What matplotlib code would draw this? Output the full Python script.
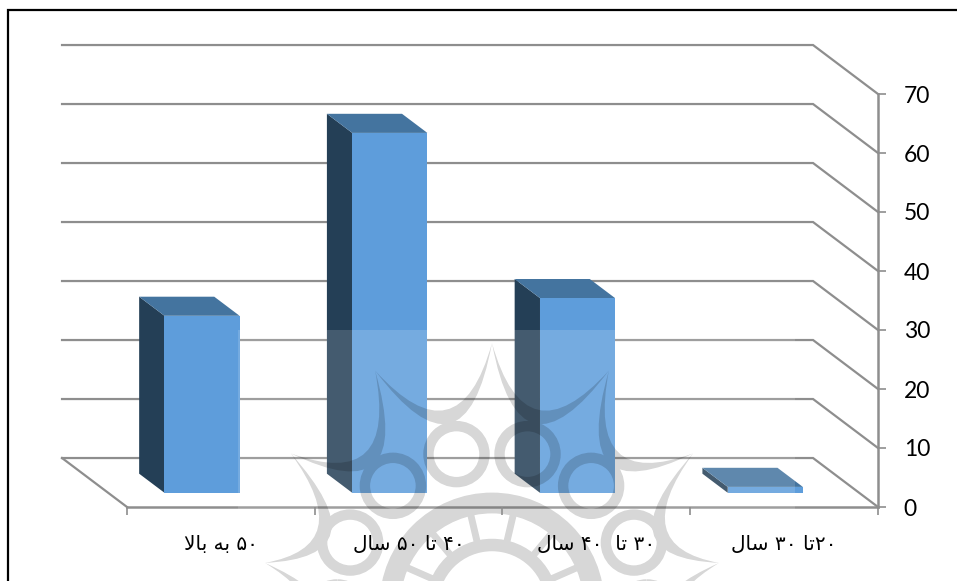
import numpy as np
import matplotlib
matplotlib.use('Agg')
import matplotlib.pyplot as plt
from matplotlib.backends.backend_agg import FigureCanvasAgg
from matplotlib.figure import Figure
from matplotlib.lines import Line2D
from matplotlib.patches import Circle, PathPatch, Polygon, Rectangle
from matplotlib.path import Path

plt.rcParams['font.family'] = ['Lato', 'DejaVu Sans']

# age groups, written in display order with shaped glyphs (matplotlib has no bidi)
categories = [
    '\ufefb\ufe8e\ufe91 \ufeea\ufe91 \u06f5\u06f0',
    '\ufedd\ufe8e\ufeb3 \u06f5\u06f0 \ufe8e\ufe97 \u06f4\u06f0',
    '\ufedd\ufe8e\ufeb3 \u06f4\u06f0  \ufe8e\ufe97 \u06f3\u06f0',
    '\ufedd\ufe8e\ufeb3 \u06f3\u06f0 \ufe8e\ufe97\u06f2\u06f0',
]
values = [30, 61, 33, 1]
y_ticks = [0, 10, 20, 30, 40, 50, 60, 70]

W, H = 957, 581
FRONT = '#5e9ddb'
SIDE = '#243f56'
TOP = '#44749f'
GREY = '#8e8e8e'

# oblique depth of the floor, in data units
DEPTH_X = 0.346
DEPTH_Y = 8.3
BAR_WIDTH = 0.4
D_FRONT = 0.29
D_BACK = 0.68


def project(x, v, d):
    return (x - d * DEPTH_X, v + d * DEPTH_Y)


def make_watermark():
    # emblem is drawn opaque off screen, so that overlaps do not add up
    f = Figure(figsize=(W / 100, H / 100), dpi=100)
    canvas = FigureCanvasAgg(f)
    a = f.add_axes([0, 0, 1, 1])
    a.set_xlim(0, W)
    a.set_ylim(H, 0)
    a.axis('off')
    cx, cy = 492, 605
    step = np.radians(26.5)
    radii = {0: 262, 1: 262, 2: 252, 3: 231, 4: 215, 5: 200}

    def pt(angle, r):
        return (cx + r * np.sin(angle), cy - r * np.cos(angle))

    for k in range(-5, 5):
        ang_a, ang_b = k * step, (k + 1) * step
        ta = pt(ang_a, radii[abs(k)])
        tb = pt(ang_b, radii[abs(k + 1)])
        mid = (ang_a + ang_b) / 2
        verts = [ta, pt(mid, 146), tb, pt(mid, 118), ta, ta]
        codes = [Path.MOVETO, Path.CURVE3, Path.CURVE3, Path.CURVE3, Path.CURVE3, Path.CLOSEPOLY]
        a.add_patch(PathPatch(Path(verts, codes), fc='k', ec='none'))
        a.add_patch(Circle(pt(mid, 155), 28, fc='none', ec='k', lw=7.5))
        a.plot(*zip(pt(mid, 60), pt(mid, 100)), color='k', lw=5)
    a.add_patch(Circle((cx, cy), 102, fc='none', ec='k', lw=15))
    a.add_patch(Circle((cx, cy), 60, fc='none', ec='k', lw=9))
    canvas.draw()
    buf = np.asarray(canvas.buffer_rgba())
    rgba = np.zeros((buf.shape[0], buf.shape[1], 4))
    rgba[..., 3] = (1 - buf[..., 0] / 255.0) * 0.16
    rgba[:335, :, 3] = 0
    return rgba


fig = plt.figure(figsize=(W / 100, H / 100), dpi=100, facecolor='white')
ax = fig.add_axes([127 / W, (H - 507) / H, (878 - 127) / W, (507 - 94) / H])
ax.patch.set_visible(False)
ax.set_xlim(0, 4)
ax.set_ylim(0, 70)

# back wall and side wall gridlines
for t in y_ticks:
    back_l = project(0, t, 1)
    back_r = project(4, t, 1)
    ax.plot([back_l[0], back_r[0], 4], [back_l[1], back_r[1], t], color=GREY, lw=1.6,
            clip_on=False, zorder=1, solid_joinstyle='miter')
# left edge of the floor
ax.plot([project(0, 0, 1)[0], 0], [project(0, 0, 1)[1], 0], color=GREY, lw=1.6, clip_on=False, zorder=1)

# 3d bars
for i, val in enumerate(values):
    left = i + 0.5 - BAR_WIDTH / 2
    right = left + BAR_WIDTH
    fl, fb = project(left, 0, D_FRONT)
    fr, _ = project(right, 0, D_FRONT)
    ft = fb + val
    bl, bb = project(left, 0, D_BACK)
    br, _ = project(right, 0, D_BACK)
    bt = bb + val
    ax.add_patch(Polygon([(fl, fb), (fl, ft), (bl, bt), (bl, bb)], fc=SIDE, ec='none', zorder=2, clip_on=False))
    ax.add_patch(Polygon([(fl, ft), (fr, ft), (br, bt), (bl, bt)], fc=TOP, ec='none', zorder=2, clip_on=False))
    ax.add_patch(Rectangle((fl, fb), fr - fl, val, fc=FRONT, ec='none', zorder=2.1, clip_on=False))

# pale band and emblem lying over the lower part of the chart
ax.add_patch(Rectangle((238 / W, 0), (795 - 238) / W, (H - 330) / H, transform=fig.transFigure,
                       fc='white', ec='none', alpha=0.15, zorder=3, clip_on=False))
ax.imshow(make_watermark(), extent=[0, 1, 0, 1], transform=fig.transFigure, aspect='auto',
          origin='upper', zorder=4, clip_on=False, interpolation='nearest')
ax.set_xlim(0, 4)
ax.set_ylim(0, 70)

# axes
for side in ['top', 'left']:
    ax.spines[side].set_visible(False)
for side in ['bottom', 'right']:
    ax.spines[side].set_color(GREY)
    ax.spines[side].set_linewidth(1.8)
    ax.spines[side].set_zorder(1.5)
ax.yaxis.tick_right()
ax.set_yticks(y_ticks)
ax.tick_params(axis='y', length=5.5, width=1.2, color=GREY, labelsize=16.5, pad=13, labelcolor='black')
ax.set_xticks([0, 1, 2, 3, 4])
ax.set_xticklabels([])
ax.tick_params(axis='x', length=5.5, width=1.2, color=GREY)
ax.set_xticks([0.5, 1.5, 2.5, 3.5], labels=categories, minor=True)
ax.tick_params(axis='x', which='minor', length=0, pad=20.5, labelsize=14.5, labelcolor='black')
for lab in ax.get_xticklabels(minor=True):
    lab.set_fontfamily(['DejaVu Sans'])
ax.xaxis.set_zorder(5)
ax.yaxis.set_zorder(5)

# outer frame, open on the right and at the bottom
fig.add_artist(Line2D([8 / W, 8 / W, 1], [0, (H - 9.5) / H, (H - 9.5) / H], color='black', lw=1.6,
                      solid_joinstyle='miter'))

fig.savefig('out.png', dpi=100)
